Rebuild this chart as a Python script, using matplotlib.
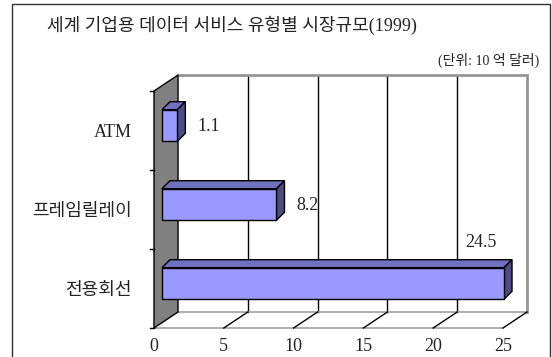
import matplotlib
matplotlib.use("Agg")
import matplotlib.pyplot as plt
from matplotlib.patches import Polygon, Rectangle
from matplotlib.transforms import offset_copy
import numpy as np

# ---- data ----
categories = ["ATM", "프레임릴레이", "전용회선"]
values = [1.1, 8.2, 24.5]
value_labels = ["1.1", "8.2", "24.5"]
xticks = [0, 5, 10, 15, 20, 25]
title = "세계 기업용 데이터 서비스 유형별 시장규모(1999)"
unit_note = "(단위: 10 억 달러)"

FAM = ["Liberation Serif", "Noto Sans CJK KR"]
plt.rcParams["font.family"] = FAM

W, H = 552, 357
fig = plt.figure(figsize=(W / 100, H / 100), dpi=100)
fig.patch.set_facecolor("white")

# front plane of the 3D box in pixels
x0, x1 = 154, 503
yb, yt = 328, 91
ax = fig.add_axes([x0 / W, (H - yb) / H, (x1 - x0) / W, (yb - yt) / H])
ax.set_facecolor("none")
xmax = 25
n = len(categories)


def setlim():
    ax.set_xlim(0, xmax)
    ax.set_ylim(n - 0.5, -0.5)


setlim()
for s in ax.spines.values():
    s.set_visible(False)

D = (24, 16)        # wall depth (dots)
F = (8, 5)          # bar front offset
B = (16, 13)        # bar back offset
bar_h = 0.4


def P(x, y, off):
    d = ax.transData.transform((x, y)) + np.array(off)
    return ax.transData.inverted().transform(d)


top, bot = -0.5, n - 0.5
tD = offset_copy(ax.transData, fig=fig, x=D[0], y=D[1], units="dots")
kw = dict(clip_on=False)

# back wall gridlines
for v in xticks[1:-1]:
    ax.plot([v, v], [bot, top], color="black", lw=1.0, transform=tD, zorder=1, **kw)
# back wall border (gray)
ax.plot([0, xmax, xmax], [top, top, bot], color="#969696", lw=2.0, transform=tD, zorder=1,
        solid_joinstyle="miter", **kw)
ax.plot([0, xmax], [bot, bot], color="#a0a0a0", lw=1.2, transform=tD, zorder=1, **kw)
setlim()
# floor front edge
ax.plot([0, xmax], [bot, bot], color="#a0a0a0", lw=1.2, zorder=1, **kw)
# floor diagonals
for v in xticks[1:]:
    a = P(v, bot, (0, 0)); b = P(v, bot, D)
    ax.plot([a[0], b[0]], [a[1], b[1]], color="black", lw=1.0, zorder=1, **kw)
setlim()

# left wall
wall = [P(0, bot, (0, 0)), P(0, top, (0, 0)), P(0, top, D), P(0, bot, D)]
ax.add_patch(Polygon(wall, closed=True, facecolor="#808080", edgecolor="black", lw=1.0, zorder=2, **kw))
# small ticks on wall front edge at category boundaries
for k in range(n + 1):
    a = P(0, k - 0.5, (0, 0)); b = P(0, k - 0.5, (-4, 0))
    ax.plot([a[0], b[0]], [a[1], b[1]], color="black", lw=1.0, zorder=2, **kw)
setlim()

# bars
yk = np.arange(n)
tF = offset_copy(ax.transData, fig=fig, x=F[0], y=F[1], units="dots")
for i, v in enumerate(values):
    yt_ = i - bar_h / 2
    yb_ = i + bar_h / 2
    topface = [P(0, yt_, F), P(v, yt_, F), P(v, yt_, B), P(0, yt_, B)]
    side = [P(v, yt_, F), P(v, yb_, F), P(v, yb_, B), P(v, yt_, B)]
    ax.add_patch(Polygon(topface, closed=True, facecolor="#7070c0", edgecolor="black", lw=1.0, zorder=3, **kw))
    ax.add_patch(Polygon(side, closed=True, facecolor="#4c4c80", edgecolor="black", lw=1.0, zorder=3, **kw))
bars = ax.barh(yk, values, height=bar_h, color="#9999ff", edgecolor="black", lw=1.0,
               transform=tF, zorder=4)
for b in bars:
    b.set_clip_on(False)
setlim()

# value labels
for i, (v, lab) in enumerate(zip(values, value_labels)):
    if v > 0.85 * xmax:
        ax.annotate(lab, (v, i - bar_h / 2), xytext=(-15, 30), textcoords="offset pixels",
                    ha="center", va="center", fontsize=13, color="#222222", zorder=5)
    else:
        ax.annotate(lab, (v, i), xytext=(F[0] + 8 + 12, 4), textcoords="offset pixels",
                    ha="left", va="center", fontsize=13, color="#222222", zorder=5)

ax.set_xticks(xticks)
ax.set_xticklabels([str(t) for t in xticks], fontsize=13, color="#222222")
ax.set_yticks(yk)
ax.set_yticklabels(categories, fontsize=13, color="#222222")
ax.tick_params(axis="x", length=0, pad=7)
ax.tick_params(axis="y", length=0, pad=16)
setlim()

# title and unit note
fig.text(232 / W, 1 - 25 / H, title, ha="center", va="center", fontsize=13, color="#222222")
fig.text(539 / W, 1 - 60 / H, unit_note, ha="right", va="center", fontsize=10, color="#222222")

# chart border
fig.patches.append(Rectangle((11.5 / W, -0.05), (549.5 - 11.5) / W, 1.05 - 3.5 / H,
                             transform=fig.transFigure, fill=False, edgecolor="#333333", lw=1.0))

fig.savefig("out.png", dpi=100)
